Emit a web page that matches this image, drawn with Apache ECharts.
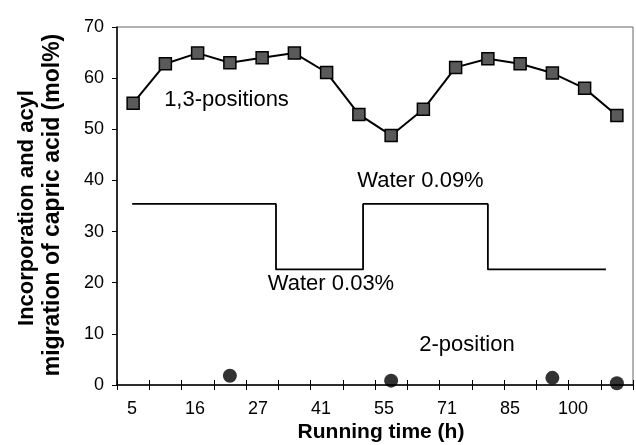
<!DOCTYPE html>
<html>
<head>
<meta charset="utf-8">
<script src="https://cdn.jsdelivr.net/npm/echarts@6/dist/echarts.min.js"></script>
<style>
html,body{margin:0;padding:0;background:#fff;}
#chart{width:636px;height:445px;}
</style>
</head>
<body>
<div id="chart"></div>
<script>
// ---- data ----
var tickLabels = ['5', '16', '27', '41', '55', '71', '85', '100'];
// 16 sampling slots; only every other one is labelled in the figure
var categories = ['5', '', '16', '', '27', '', '41', '', '55', '', '71', '', '85', '', '100', ''];
var pos13 = [55.1, 62.8, 64.9, 63.0, 64.0, 64.9, 61.1, 52.9, 48.8, 53.9, 62.1, 63.8, 62.8, 61.0, 58.0, 52.7];
var pos2 = [null, null, null, 1.8, null, null, null, null, 0.85, null, null, null, null, 1.4, null, 0.35];
// water content step line, x in sampling-slot units (0..16)
var waterX = [0.47, 4.93, 4.93, 7.63, 7.63, 11.5, 11.5, 15.16];
var waterY = [35.4, 35.4, 22.6, 22.6, 35.4, 35.4, 22.6, 22.6];
var yTicks = {min: 0, max: 70, interval: 10};

var FONT = "'Liberation Sans', Arial, sans-serif";
var chart = echarts.init(document.getElementById('chart'));
var waterData = waterX.map(function (x, i) { return [x, waterY[i]]; });

chart.setOption({
  animation: false,
  backgroundColor: '#fff',
  textStyle: {fontFamily: FONT, color: '#000'},
  grid: [
    {left: 117, right: 3, top: 27, bottom: 60, show: true, borderColor: '#666', borderWidth: 1},
    {left: 100.5, width: 504, top: 27, bottom: 60}
  ],
  xAxis: [
    {
      type: 'category', gridIndex: 0, data: categories, boundaryGap: true, position: 'bottom',
      axisLine: {lineStyle: {color: '#000', width: 1.5}},
      axisTick: {show: true, interval: 0, length: 5, lineStyle: {color: '#000', width: 1}},
      axisLabel: {show: false},
      splitLine: {show: false}
    },
    {
      type: 'value', gridIndex: 0, min: 0, max: 16, interval: 1, position: 'bottom',
      axisLine: {show: false},
      axisTick: {show: true, inside: true, length: 5, lineStyle: {color: '#000', width: 1}},
      axisLabel: {show: false},
      splitLine: {show: false}
    },
    {
      type: 'category', gridIndex: 1, data: tickLabels, position: 'bottom',
      axisLine: {show: false}, axisTick: {show: false}, splitLine: {show: false},
      axisLabel: {interval: 0, fontSize: 18, color: '#000', fontFamily: FONT, margin: 15}
    }
  ],
  yAxis: [
    {
      type: 'value', gridIndex: 0, min: yTicks.min, max: yTicks.max, interval: yTicks.interval,
      axisLine: {show: true, lineStyle: {color: '#000', width: 1.5}},
      axisTick: {show: true, length: 5, lineStyle: {color: '#000', width: 1}},
      axisLabel: {fontSize: 18, color: '#000', fontFamily: FONT, margin: 13},
      splitLine: {show: false}
    },
    {
      type: 'value', gridIndex: 1, min: 0, max: 70, show: false
    }
  ],
  series: [
    {
      name: 'Water', type: 'line', xAxisIndex: 1, yAxisIndex: 0, data: waterData,
      symbol: 'none', lineStyle: {color: '#000', width: 1.8}, z: 2
    },
    {
      name: '1,3-positions', type: 'line', xAxisIndex: 0, yAxisIndex: 0, data: pos13,
      symbol: 'rect', symbolSize: 12,
      lineStyle: {color: '#000', width: 2},
      itemStyle: {color: '#5a5a5a', borderColor: '#000', borderWidth: 1.5}, z: 3
    },
    {
      name: '2-position', type: 'scatter', xAxisIndex: 0, yAxisIndex: 0, data: pos2,
      symbol: 'circle', symbolSize: 14, itemStyle: {color: '#000'}, z: 3
    }
  ],
  graphic: [
    {type: 'text', x: 226.5, y: 100, style: {text: '1,3-positions', font: '22px ' + FONT, fill: '#000', textAlign: 'center', textVerticalAlign: 'middle'}},
    {type: 'text', x: 420.5, y: 181, style: {text: 'Water 0.09%', font: '22px ' + FONT, fill: '#000', textAlign: 'center', textVerticalAlign: 'middle'}},
    {type: 'text', x: 331, y: 284, style: {text: 'Water 0.03%', font: '22px ' + FONT, fill: '#000', textAlign: 'center', textVerticalAlign: 'middle'}},
    {type: 'text', x: 467, y: 345, style: {text: '2-position', font: '22px ' + FONT, fill: '#000', textAlign: 'center', textVerticalAlign: 'middle'}},
    {type: 'text', x: 381, y: 432, style: {text: 'Running time (h)', font: 'bold 21px ' + FONT, fill: '#000', textAlign: 'center', textVerticalAlign: 'middle'}},
    {type: 'text', x: 27, y: 208, rotation: Math.PI / 2, style: {text: 'Incorporation and acyl', font: 'bold 22px ' + FONT, fill: '#000', textAlign: 'center', textVerticalAlign: 'middle'}},
    {type: 'text', x: 53, y: 205, rotation: Math.PI / 2, style: {text: 'migration of capric acid (mol%)', font: 'bold 23px ' + FONT, fill: '#000', textAlign: 'center', textVerticalAlign: 'middle'}}
  ]
});
</script>
</body>
</html>
